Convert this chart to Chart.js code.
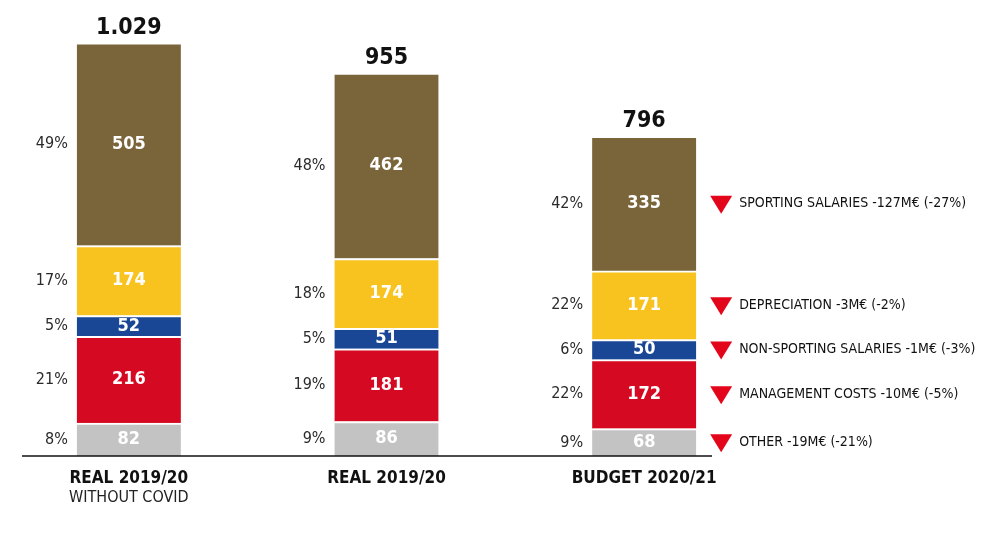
<!DOCTYPE html>
<html>
<head>
<meta charset="utf-8">
<script src="https://cdn.jsdelivr.net/npm/chart.js@4"></script>
<style>
  html, body { margin: 0; padding: 0; background: #fff; }
  #wrap { width: 1000px; height: 533px; }
</style>
</head>
<body>
<div id="wrap"><canvas id="chart"></canvas></div>
<script>
// --- Data (stack order: bottom to top) ---
const categories = ['REAL 2019/20', 'REAL 2019/20', 'BUDGET 2020/21'];
const subtitles = ['WITHOUT COVID', '', ''];
const totals = ['1.029', '955', '796'];

const seriesNames = ['Other', 'Management costs', 'Non-sporting salaries', 'Depreciation', 'Sporting salaries'];
const other = [82, 86, 68];
const management = [216, 181, 172];
const nonSporting = [52, 51, 50];
const depreciation = [174, 174, 171];
const sporting = [505, 462, 335];

const sharesBar1 = ['8%', '21%', '5%', '17%', '49%'];
const sharesBar2 = ['9%', '19%', '5%', '18%', '48%'];
const sharesBar3 = ['9%', '22%', '6%', '22%', '42%'];

const changeLabels = ['OTHER -19M€ (-21%)', 'MANAGEMENT COSTS -10M€ (-5%)', 'NON-SPORTING SALARIES -1M€ (-3%)', 'DEPRECIATION -3M€ (-2%)', 'SPORTING SALARIES -127M€ (-27%)'];

const colors = ['#c3c3c3', '#d50a22', '#1a4795', '#f9c31f', '#7a643a'];
const shares = [sharesBar1, sharesBar2, sharesBar3];

const boldFont = '"DejaVu Sans Condensed", "Liberation Sans Narrow", sans-serif';
const lightFont = '"DejaVu Sans Condensed", "Liberation Sans Narrow", sans-serif';

const labelsPlugin = {
	id: 'labels',
	afterDatasetsDraw(chart) {
		const ctx = chart.ctx;
		const yScale = chart.scales.y;
		const baseY = yScale.getPixelForValue(0);
		ctx.save();

		// baseline
		ctx.strokeStyle = '#111';
		ctx.lineWidth = 1.5;
		ctx.beginPath();
		ctx.moveTo(22, baseY);
		ctx.lineTo(712, baseY);
		ctx.stroke();

		const metas = chart.data.datasets.map((d, i) => chart.getDatasetMeta(i));

		categories.forEach((cat, j) => {
			const top = metas[metas.length - 1].data[j];
			const half = top.width / 2;

			// total above the bar
			ctx.fillStyle = '#111';
			ctx.textAlign = 'center';
			ctx.textBaseline = 'alphabetic';
			ctx.font = 'bold 23px ' + boldFont;
			ctx.fillText(totals[j], top.x, top.y - 9);

			// category labels
			ctx.font = 'bold 17px ' + boldFont;
			ctx.textBaseline = 'middle';
			ctx.fillText(cat, top.x, baseY + 23);
			if (subtitles[j]) {
				ctx.font = '16px ' + lightFont;
				ctx.fillStyle = '#222';
				ctx.fillText(subtitles[j], top.x, baseY + 42);
			}

			metas.forEach((meta, i) => {
				const el = meta.data[j];
				const mid = (el.y + el.base) / 2;

				// value inside segment
				ctx.fillStyle = '#fff';
				ctx.textAlign = 'center';
				ctx.font = 'bold 18px ' + boldFont;
				ctx.fillText(String(chart.data.datasets[i].data[j]), el.x, mid);

				// share to the left
				ctx.fillStyle = '#2a2a2a';
				ctx.textAlign = 'right';
				ctx.font = '16px ' + lightFont;
				ctx.fillText(shares[j][i], el.x - half - 9, mid);

				// change annotations next to the budget bar
				if (j === categories.length - 1) {
					const tx = el.x + half + 25;
					ctx.fillStyle = '#e3061b';
					ctx.beginPath();
					ctx.moveTo(tx - 11, mid - 8);
					ctx.lineTo(tx + 11, mid - 8);
					ctx.lineTo(tx, mid + 10);
					ctx.closePath();
					ctx.fill();

					ctx.fillStyle = '#111';
					ctx.textAlign = 'left';
					ctx.font = '14px ' + lightFont;
					ctx.fillText(changeLabels[i], tx + 18, mid);
				}
			});
		});
		ctx.restore();
	},
};

const seriesData = [other, management, nonSporting, depreciation, sporting];

new Chart(document.getElementById('chart'), {
	type: 'bar',
	data: {
		labels: categories,
		datasets: seriesData.map((data, i) => ({
			label: seriesNames[i],
			data,
			backgroundColor: colors[i],
			borderColor: '#fff',
			borderWidth: { top: 2, bottom: 0, left: 0, right: 0 },
			borderSkipped: false,
			barThickness: 104,
		})),
	},
	options: {
		responsive: true,
		maintainAspectRatio: false,
		animation: false,
		layout: { padding: { left: 0, right: 227, top: 20, bottom: 77 } },
		plugins: { legend: { display: false }, tooltip: { enabled: false } },
		scales: {
			x: { stacked: true, display: false },
			y: { stacked: true, display: false, min: 0, max: 1086 },
		},
	},
	plugins: [labelsPlugin],
});
</script>
</body>
</html>
